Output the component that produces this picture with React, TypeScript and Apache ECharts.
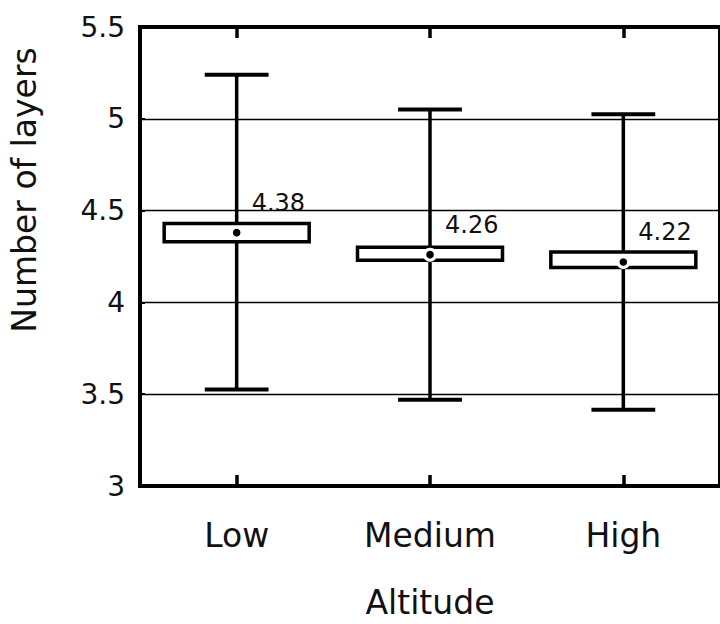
import React, { useEffect, useRef } from "react";
import * as echarts from "echarts";

const categories = ["Low", "Medium", "High"];
const whiskerLow = [3.525, 3.47, 3.415];
const boxLow = [4.33, 4.23, 4.19];
const means = [4.38, 4.26, 4.22];
const boxHigh = [4.43, 4.3, 4.275];
const whiskerHigh = [5.24, 5.05, 5.025];
const meanLabels = ["4.38", "4.26", "4.22"];

const yMin = 3;
const yMax = 5.5;
const yStep = 0.5;

const FONT = '"DejaVu Sans", "Noto Sans", sans-serif';

export default function App() {
  const ref = useRef<HTMLDivElement>(null);

  useEffect(() => {
    if (!ref.current) return;
    const chart = echarts.init(ref.current, null, { renderer: "svg" });

    const data = categories.map((_, i) => [
      i,
      whiskerLow[i],
      boxLow[i],
      means[i],
      boxHigh[i],
      whiskerHigh[i],
    ]);

    const renderItem = (params: any, api: any) => {
      const xi = api.value(0);
      const cx = api.coord([xi, api.value(1)])[0];
      const yWL = api.coord([xi, api.value(1)])[1];
      const yBL = api.coord([xi, api.value(2)])[1];
      const yM = api.coord([xi, api.value(3)])[1];
      const yBH = api.coord([xi, api.value(4)])[1];
      const yWH = api.coord([xi, api.value(5)])[1];
      const band = api.size([1, 0])[0];
      const boxW = band * 0.75;
      const capW = band * 0.33;
      return {
        type: "group",
        children: [
          {
            type: "line",
            shape: { x1: cx, y1: yWH, x2: cx, y2: yWL },
            style: { stroke: "#000", lineWidth: 3.5 },
          },
          {
            type: "line",
            shape: { x1: cx - capW / 2, y1: yWH, x2: cx + capW / 2, y2: yWH },
            style: { stroke: "#000", lineWidth: 4 },
          },
          {
            type: "line",
            shape: { x1: cx - capW / 2, y1: yWL, x2: cx + capW / 2, y2: yWL },
            style: { stroke: "#000", lineWidth: 4 },
          },
          {
            type: "rect",
            shape: { x: cx - boxW / 2, y: yBH, width: boxW, height: yBL - yBH },
            style: { fill: "#fff", stroke: "#000", lineWidth: 3.5 },
          },
          {
            type: "circle",
            shape: { cx: cx, cy: yM, r: 7 },
            style: { fill: "#fff" },
          },
          {
            type: "circle",
            shape: { cx: cx, cy: yM, r: 3.8 },
            style: { fill: "#000" },
          },
          {
            type: "text",
            x: cx + 15,
            y: yM - 18,
            style: {
              text: meanLabels[params.dataIndex],
              fill: "#111",
              font: `24px ${FONT}`,
              fontSize: 24,
              fontFamily: FONT,
              align: "left",
              verticalAlign: "bottom",
              textAlign: "left",
              textVerticalAlign: "bottom",
            },
          },
        ],
      };
    };

    chart.setOption({
      animation: false,
      backgroundColor: "#fff",
      grid: {
        left: 140,
        top: 27,
        width: 584,
        height: 471,
        show: true,
        borderColor: "#000",
        borderWidth: 4,
        backgroundColor: "transparent",
      },
      xAxis: [
        {
          type: "category",
          data: categories,
          position: "bottom",
          axisLine: { show: false },
          axisTick: {
            show: true,
            inside: true,
            alignWithLabel: true,
            length: 11,
            lineStyle: { color: "#000", width: 3.5 },
          },
          axisLabel: {
            color: "#111",
            fontSize: 33,
            fontFamily: FONT,
            margin: 33,
          },
          name: "Altitude",
          nameLocation: "middle",
          nameGap: 100,
          nameTextStyle: { color: "#111", fontSize: 33, fontFamily: FONT },
          splitLine: { show: false },
        },
        {
          type: "category",
          data: categories,
          position: "top",
          axisLine: { show: false },
          axisTick: {
            show: true,
            inside: true,
            alignWithLabel: true,
            length: 11,
            lineStyle: { color: "#000", width: 3.5 },
          },
          axisLabel: { show: false },
          splitLine: { show: false },
        },
      ],
      yAxis: {
        type: "value",
        min: yMin,
        max: yMax,
        interval: yStep,
        axisLine: { show: false },
        axisTick: {
          show: true,
          inside: true,
          length: 5,
          lineStyle: { color: "#000", width: 2 },
        },
        axisLabel: {
          color: "#111",
          fontSize: 28,
          fontFamily: FONT,
          margin: 15,
        },
        splitLine: { show: true, lineStyle: { color: "#000", width: 1.3 } },
      },
      graphic: [
        {
          type: "text",
          x: 24,
          y: 190,
          rotation: Math.PI / 2,
          style: {
            text: "Number of layers",
            fill: "#111",
            font: `33px ${FONT}`,
            fontSize: 33,
            fontFamily: FONT,
            align: "center",
            verticalAlign: "middle",
            textAlign: "center",
            textVerticalAlign: "middle",
          },
        },
      ],
      series: [
        {
          type: "custom",
          xAxisIndex: 0,
          yAxisIndex: 0,
          renderItem: renderItem,
          data: data,
          encode: { x: 0, y: [1, 5] },
          clip: false,
        },
      ],
    });

    return () => {
      chart.dispose();
    };
  }, []);

  return (
    <div
      ref={ref}
      style={{ position: "fixed", left: 0, top: 0, width: 720, height: 624, background: "#fff" }}
    />
  );
}
